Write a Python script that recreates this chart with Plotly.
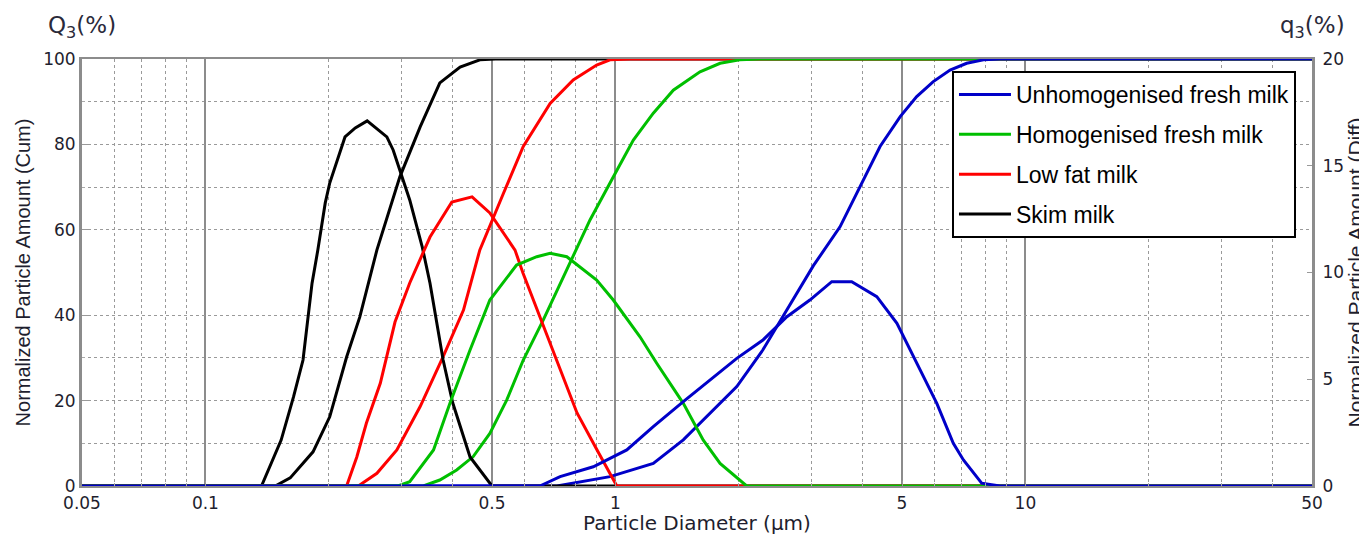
import plotly.graph_objects as go

# ---------------- data ----------------
series_names = ["Skim milk", "Low fat milk", "Homogenised fresh milk", "Unhomogenised fresh milk"]
series_colors = ["#000000", "#ff0000", "#00bf00", "#0000c8"]
legend_ranks = [4, 3, 2, 1]

# Skim milk
skim_diff_d = [0.05, 0.137, 0.153, 0.164, 0.173, 0.182, 0.188, 0.196, 0.201, 0.219, 0.232, 0.248,
               0.277, 0.287, 0.315, 0.338, 0.353, 0.380, 0.401, 0.442, 0.500, 50]
skim_diff = [0, 0, 2.15, 4.17, 5.9, 9.5, 11.05, 13.26, 14.19, 16.35, 16.77, 17.1,
             16.35, 15.74, 13.4, 11.19, 9.5, 5.9, 3.9, 1.36, 0, 0]
skim_cum_d = [0.05, 0.148, 0.161, 0.183, 0.201, 0.221, 0.238, 0.262, 0.298, 0.334, 0.373, 0.418, 0.467, 0.51, 50]
skim_cum = [0, 0, 1.9, 8.0, 16.2, 30.2, 39.6, 55.3, 72.4, 84.1, 94.4, 98.1, 99.8, 100, 100]

# Low fat milk
lowfat_diff_d = [0.05, 0.221, 0.234, 0.247, 0.267, 0.290, 0.315, 0.353, 0.399, 0.447, 0.494, 0.569,
                 0.595, 0.704, 0.806, 0.902, 1.008, 50]
lowfat_diff = [0, 0, 1.36, 2.95, 4.81, 7.68, 9.51, 11.66, 13.30, 13.54, 12.79, 11.05,
               9.98, 6.37, 3.42, 1.69, 0, 0]
lowfat_cum_d = [0.05, 0.236, 0.262, 0.293, 0.334, 0.380, 0.426, 0.467, 0.533, 0.596, 0.693, 0.789,
                0.900, 0.970, 1.087, 50]
lowfat_cum = [0, 0, 2.97, 8.43, 18.6, 30.3, 41.2, 55.3, 68.5, 79.5, 89.6, 95.1, 98.6, 99.8, 100, 100]

# Homogenised fresh milk
homog_diff_d = [0.05, 0.295, 0.315, 0.360, 0.395, 0.442, 0.494, 0.574, 0.643, 0.693, 0.761, 0.900,
                0.988, 1.148, 1.261, 1.464, 1.638, 1.80, 2.09, 50]
homog_diff = [0, 0, 0.2, 1.69, 3.89, 6.37, 8.71, 10.35, 10.74, 10.90, 10.74, 9.65,
              8.71, 6.99, 5.75, 3.87, 2.15, 1.06, 0, 0]
homog_cum_d = [0.05, 0.340, 0.373, 0.410, 0.450, 0.494, 0.543, 0.596, 0.667, 0.746, 0.867, 1.0,
               1.106, 1.237, 1.384, 1.608, 1.80, 2.01, 2.25, 50]
homog_cum = [0, 0, 1.4, 3.75, 6.9, 12.3, 20.1, 29.5, 38.9, 49.0, 62.3, 73.3,
             81.0, 87.3, 92.7, 97.0, 99.0, 99.8, 100, 100]

# Unhomogenised fresh milk
unhom_diff_d = [0.05, 0.654, 0.733, 0.883, 1.066, 1.237, 1.464, 1.701, 1.977, 2.29, 2.62, 2.98,
                3.37, 3.77, 4.34, 4.86, 5.43, 6.08, 6.67, 7.06, 7.82, 8.67, 50]
unhom_diff = [0, 0, 0.44, 0.90, 1.69, 2.78, 3.95, 4.96, 5.98, 6.84, 7.93, 8.71,
              9.57, 9.57, 8.87, 7.62, 5.75, 3.87, 2.0, 1.22, 0.13, 0, 0]
unhom_cum_d = [0.05, 0.72, 0.97, 1.237, 1.464, 1.701, 1.977, 2.29, 2.62, 3.04, 3.53, 3.95,
               4.42, 4.95, 5.43, 5.96, 6.55, 7.19, 7.9, 8.67, 50]
unhom_cum = [0, 0, 2.2, 5.3, 10.8, 17.0, 23.3, 31.9, 41.2, 51.6, 60.7, 70.1,
             79.5, 86.5, 91.2, 94.7, 97.4, 99.0, 99.8, 100, 100]

x_tickvals = [0.05, 0.1, 0.5, 1, 5, 10, 50]
x_ticktext = ["0.05", "0.1", "0.5", "1", "5", "10", "50"]
x_minor = [0.06, 0.07, 0.08, 0.09, 0.2, 0.3, 0.4, 0.6, 0.7, 0.8, 0.9,
           2, 3, 4, 6, 7, 8, 9, 20, 30, 40]
y_tickvals = [0, 20, 40, 60, 80, 100]
y_minor = [10, 30, 70, 90]
y_mid = [50]
y2_tickvals = [0, 5, 10, 15, 20]

cum_data = [(skim_cum_d, skim_cum), (lowfat_cum_d, lowfat_cum), (homog_cum_d, homog_cum), (unhom_cum_d, unhom_cum)]
diff_data = [(skim_diff_d, skim_diff), (lowfat_diff_d, lowfat_diff), (homog_diff_d, homog_diff), (unhom_diff_d, unhom_diff)]

# ---------------- figure ----------------
fig = go.Figure()
for name, color, rank, (cd, cv), (dd, dv) in zip(series_names, series_colors, legend_ranks, cum_data, diff_data):
    fig.add_trace(go.Scatter(x=cd, y=cv, mode="lines", name=name, legendgroup=name, legendrank=rank,
                             line=dict(color=color, width=3), cliponaxis=False, yaxis="y"))
    fig.add_trace(go.Scatter(x=dd, y=dv, mode="lines", name=name, legendgroup=name, legendrank=rank,
                             showlegend=False,
                             line=dict(color=color, width=3), cliponaxis=False, yaxis="y2"))

tick_font = dict(family="DejaVu Sans", size=17, color="#1e1e2e")
grid_dot = "#9a9a9a"
grid_solid = "#8c8c8c"

# the page body has an 8px margin, so the figure is sized to fill the rest of the window
fig.update_layout(
    width=1359, height=527,
    margin=dict(l=74, r=55, t=51, b=49),
    paper_bgcolor="white", plot_bgcolor="white",
    showlegend=True,
    legend=dict(x=0.7073, y=0.972, xanchor="left", yanchor="top",
                bordercolor="black", borderwidth=2, bgcolor="white",
                font=dict(family="Liberation Sans", size=23, color="black"),
                traceorder="grouped", tracegroupgap=7, itemwidth=52),
    xaxis=dict(type="log", range=[-1.30103, 1.69897], automargin=False,
               tickvals=x_tickvals, ticktext=x_ticktext, tickfont=tick_font,
               showgrid=True, gridcolor=grid_solid, gridwidth=2,
               ticks="inside", ticklen=5, tickcolor="#999", ticklabelstandoff=1,
               minor=dict(tickvals=x_minor, showgrid=True, gridcolor=grid_dot, griddash="dot",
                          gridwidth=1, ticks="inside", ticklen=3, tickcolor="#aaa"),
               showline=True, linecolor="#8c8c8c", linewidth=2, mirror=True,
               zeroline=False,
               title=dict(text="Particle Diameter (µm)", standoff=4,
                          font=dict(family="DejaVu Sans", size=20, color="#1e1e2e"))),
    yaxis=dict(range=[0, 100], tickvals=y_tickvals, tickfont=tick_font, automargin=False,
               showgrid=True, gridcolor=grid_dot, griddash="dot", gridwidth=1,
               ticks="inside", ticklen=7, tickcolor="#999", ticklabelstandoff=0,
               minor=dict(tickvals=y_minor, showgrid=True, gridcolor=grid_dot, griddash="dot",
                          gridwidth=1, ticks="inside", ticklen=3, tickcolor="#aaa"),
               showline=True, linecolor="#8c8c8c", linewidth=3, mirror=False, zeroline=False,
               title=dict(text="Normalized Particle Amount (Cum)", standoff=8,
                          font=dict(family="Liberation Sans", size=20, color="#1e1e2e"))),
    yaxis2=dict(range=[0, 20], overlaying="y", side="right", tickvals=y2_tickvals, tickfont=tick_font,
                automargin=False,
                showgrid=False, ticks="inside", ticklen=5, tickcolor="#999", ticklabelstandoff=4,
                showline=True, linecolor="#8c8c8c", linewidth=3, zeroline=False,
                title=dict(text="Normalized Particle Amount (Diff)", standoff=1,
                           font=dict(family="Liberation Sans", size=21, color="#1e1e2e"))),
    yaxis3=dict(range=[0, 100], overlaying="y", tickvals=y_mid, showticklabels=False, automargin=False,
                showgrid=True, gridcolor=grid_solid, gridwidth=2, showline=False, zeroline=False,
                ticks=""),
    annotations=[
        dict(text="Q<sub>3</sub>(%)", xref="paper", yref="paper", x=0, y=1, xanchor="center",
             yanchor="bottom", yshift=15, showarrow=False,
             font=dict(family="DejaVu Sans", size=23, color="#2a2a3a")),
        dict(text="q<sub>3</sub>(%)", xref="paper", yref="paper", x=1, y=1, xanchor="center",
             yanchor="bottom", yshift=15, showarrow=False,
             font=dict(family="DejaVu Sans", size=23, color="#2a2a3a")),
    ],
)

fig.write_html("out.html")
